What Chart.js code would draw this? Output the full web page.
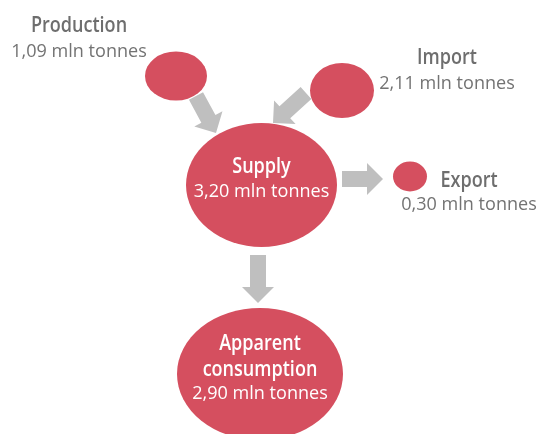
<!DOCTYPE html>
<html>
<head>
<meta charset="utf-8">
<script src="https://cdn.jsdelivr.net/npm/chart.js@4.4.1/dist/chart.umd.min.js"></script>
<style>
html,body{margin:0;padding:0;background:#fff;}
#wrap{width:539px;height:434px;}
</style>
</head>
<body>
<div id="wrap"><canvas id="c" width="539" height="434"></canvas></div>
<script>
// ---- data ----
const nodeLabels = ['Production', 'Import', 'Supply', 'Export', 'Apparent consumption'];
const nodeValues = [1.09, 2.11, 3.20, 0.30, 2.90];
const valueUnit = 'mln tonnes';
const flows = [[0, 2], [1, 2], [2, 3], [2, 4]];

// ---- layout (diagram coordinates) ----
const nodeX  = [176, 342, 261.5, 410, 260];
const nodeY  = [76, 90.5, 185, 176.5, 374];
const nodeRX = [31, 32, 75.5, 17, 83];
const nodeRY = [24.5, 27.5, 62, 15, 66];
// label anchors: [centerX, titleBaseline, lineGap, valueGap]
const labelPos = [
  [79, 32, 25, 25],
  [447, 64, 25, 25],
  [261.5, 173, 24, 24],
  [469, 187, 23, 23],
  [260, 350, 26, 23]
];
const labelInside = [false, false, true, false, true];
// arrow tails and tips
const arrowFrom = [[196, 96], [306, 93], [342, 179], [258, 255]];
const arrowTo   = [[216, 133], [273, 123], [383, 179], [258, 303]];

const RED = '#d54f5f';
const GREY = '#bfbfbf';
const TEXT = '#6e6e6e';

function fmt(v) { return v.toFixed(2).replace('.', ',') + ' ' + valueUnit; }

function condText(ctx, t, x, y, font, k, color) {
  ctx.save();
  ctx.font = font;
  ctx.fillStyle = color;
  ctx.textAlign = 'center';
  ctx.textBaseline = 'alphabetic';
  ctx.translate(x, y);
  ctx.scale(k, 1);
  ctx.fillText(t, 0, 0);
  ctx.restore();
}

const diagramPlugin = {
  id: 'diagram',
  afterDatasetsDraw(chart) {
    const ctx = chart.ctx;
    const xs = chart.scales.x, ys = chart.scales.y;
    const px = v => xs.getPixelForValue(v);
    const py = v => ys.getPixelForValue(v);
    // arrows
    flows.forEach((f, i) => {
      const x1 = px(arrowFrom[i][0]), y1 = py(arrowFrom[i][1]);
      const x2 = px(arrowTo[i][0]), y2 = py(arrowTo[i][1]);
      const dx = x2 - x1, dy = y2 - y1;
      const len = Math.hypot(dx, dy);
      const ang = Math.atan2(dy, dx);
      const sw = 8, hw = 16, hl = 16;
      ctx.save();
      ctx.translate(x1, y1);
      ctx.rotate(ang);
      ctx.beginPath();
      ctx.moveTo(0, -sw);
      ctx.lineTo(len - hl, -sw);
      ctx.lineTo(len - hl, -hw);
      ctx.lineTo(len, 0);
      ctx.lineTo(len - hl, hw);
      ctx.lineTo(len - hl, sw);
      ctx.lineTo(0, sw);
      ctx.closePath();
      ctx.fillStyle = GREY;
      ctx.fill();
      ctx.restore();
    });
    // ellipses
    const meta = chart.getDatasetMeta(0);
    meta.data.forEach((pt, i) => {
      const rx = Math.abs(px(nodeX[i] + nodeRX[i]) - px(nodeX[i]));
      const ry = Math.abs(py(nodeY[i] + nodeRY[i]) - py(nodeY[i]));
      ctx.beginPath();
      ctx.ellipse(pt.x, pt.y, rx, ry, 0, 0, Math.PI * 2);
      ctx.fillStyle = RED;
      ctx.fill();
    });
    // labels
    nodeLabels.forEach((lab, i) => {
      const [lx, ly, gap, vgap] = labelPos[i];
      const X = px(lx);
      let Y = py(ly);
      const inside = labelInside[i];
      const tc = inside ? '#ffffff' : TEXT;
      const words = (i === 4) ? ['Apparent', 'consumption'] : [lab];
      words.forEach((w, j) => {
        condText(ctx, w, X, Y, '600 22px "Open Sans"', 0.82, tc);
        if (j < words.length - 1) Y += gap;
      });
      condText(ctx, fmt(nodeValues[i]), X, Y + vgap, '19px "Open Sans"', 0.95, inside ? '#ffffff' : '#737373');
    });
  }
};

new Chart(document.getElementById('c'), {
  type: 'scatter',
  data: {
    labels: nodeLabels,
    datasets: [{
      data: nodeX.map((x, i) => ({ x: x, y: nodeY[i] })),
      pointRadius: 0,
      pointHoverRadius: 0,
      clip: false
    }]
  },
  options: {
    responsive: false,
    animation: false,
    events: [],
    layout: { padding: 0 },
    scales: {
      x: { type: 'linear', min: 0, max: 539, display: false },
      y: { type: 'linear', min: 0, max: 434, reverse: true, display: false }
    },
    plugins: { legend: { display: false }, tooltip: { enabled: false } }
  },
  plugins: [diagramPlugin]
});
</script>
</body>
</html>
